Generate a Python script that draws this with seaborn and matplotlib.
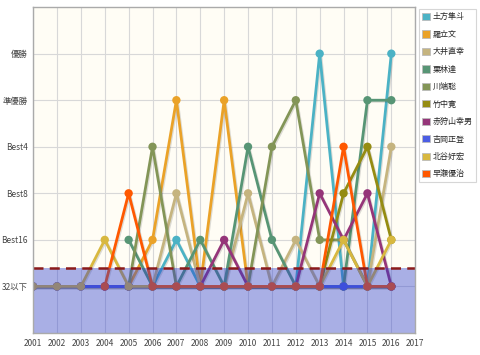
import numpy as np
import pandas as pd
import matplotlib
matplotlib.use("Agg")
import matplotlib.pyplot as plt
import matplotlib.patheffects as pe
import seaborn as sns

# 0=32以下, 1=Best16, 2=Best8, 3=Best4, 4=準優勝, 5=優勝
years = list(range(2001, 2017))
rank_labels = ["32以下", "Best16", "Best8", "Best4", "準優勝", "優勝"]

players = ["土方隼斗", "羅立文", "大井直幸", "栗林達", "川端聡",
           "竹中寛", "赤狩山幸男", "吉岡正登", "北谷好宏", "早瀬優治"]
colors = ["#4bb2c5", "#eaa228", "#c5b47f", "#579575", "#839557",
          "#958c12", "#953579", "#4b5de4", "#d8b83f", "#ff5800"]

nan = np.nan
hijikata  = [nan, nan, nan, nan, nan, 0, 1, 0, 0, 0, 0, 0, 5, 0, 0, 5]
ra        = [nan, nan, nan, nan, 0, 1, 4, 0, 4, 0, 0, 0, 0, 0, 0, 0]
ooi       = [0, 0, 0, 0, 0, 0, 2, 0, 0, 2, 0, 1, 0, 0, 0, 3]
kuribayashi = [nan, nan, nan, nan, 1, 0, 0, 1, 0, 3, 1, 0, 0, 0, 4, 4]
kawabata  = [nan, nan, nan, nan, 0, 3, 0, 0, 0, 0, 3, 4, 1, 1, 0, 0]
takenaka  = [nan, nan, nan, nan, nan, nan, nan, nan, nan, nan, nan, nan, 0, 2, 3, 1]
akakariyama = [0, 0, 0, 0, 0, 0, 0, 0, 1, 0, 0, 0, 2, 1, 2, 0]
yoshioka  = [0, 0, 0, 0, 0, 0, 0, 0, 0, 0, 0, 0, 0, 0, 0, 0]
kitatani  = [0, 0, 0, 1, 0, 0, 0, 0, 0, 0, 0, 0, 0, 1, 0, 1]
hayase    = [nan, nan, nan, 0, 2, 0, 0, 0, 0, 0, 0, 0, 0, 3, 0, 0]

series = [hijikata, ra, ooi, kuribayashi, kawabata,
          takenaka, akakariyama, yoshioka, kitatani, hayase]

rows = []
for name, vals in zip(players, series):
    for y, v in zip(years, vals):
        rows.append({"year": y, "rank": v, "player": name})
df = pd.DataFrame(rows).dropna()

sns.set_theme(style="white")
plt.rcParams["font.family"] = ["Noto Sans CJK JP", "DejaVu Sans"]

fig = plt.figure(figsize=(4.8, 3.55), dpi=100)
ax = fig.add_axes([0.069, 0.062, 0.796, 0.918])
ax.set_facecolor("#fffdf5")

sns.lineplot(data=df, x="year", y="rank", hue="player", hue_order=players,
             palette=dict(zip(players, colors)), marker="o", markersize=6,
             markeredgewidth=0, linewidth=2, estimator=None, sort=True,
             legend=False, ax=ax, zorder=3)

# jqplot-like soft shadow
for ln in ax.lines:
    ln.set_path_effects([pe.SimpleLineShadow(offset=(0.8, -0.8), alpha=0.15),
                         pe.Normal()])

# translucent "32以下" zone drawn over the lines
ax.axhspan(-1, 0.4, facecolor="#2a3ccf", alpha=0.4, lw=0, zorder=4)
ax.axhline(0.4, color="#8b1a1a", lw=1.8, ls=(0, (4, 2.5)), zorder=5)

ax.set_xlim(2001, 2017)
ax.set_ylim(-1, 6)
ax.set_xticks(range(2001, 2018))
ax.set_xticklabels([str(y) for y in range(2001, 2018)], fontsize=6, color="#444")
ax.set_yticks(range(-1, 6))
ax.set_yticklabels([""] + rank_labels, fontsize=6, color="#444")
ax.set_xlabel("")
ax.set_ylabel("")
ax.grid(True, color="#d8d8d8", lw=0.8, zorder=0)
ax.set_axisbelow(True)
ax.tick_params(axis="both", length=2, pad=2, color="#999")
for s in ax.spines.values():
    s.set_color("#aaaaaa")
    s.set_linewidth(1)
    s.set_zorder(6)

handles = [plt.Rectangle((0, 0), 1, 1, facecolor=c, edgecolor="#bbbbbb", lw=0.6)
           for c in colors]
leg = fig.legend(handles, players, loc="upper left",
                 bbox_to_anchor=(0.869, 0.98), fontsize=5.8, frameon=True,
                 handlelength=1.0, handleheight=1.0, handletextpad=0.3,
                 labelspacing=1.05, borderpad=0.45, borderaxespad=0.2,
                 fancybox=False)
leg.get_frame().set_edgecolor("#cccccc")
leg.get_frame().set_linewidth(0.8)

fig.savefig("out.png", dpi=100)
